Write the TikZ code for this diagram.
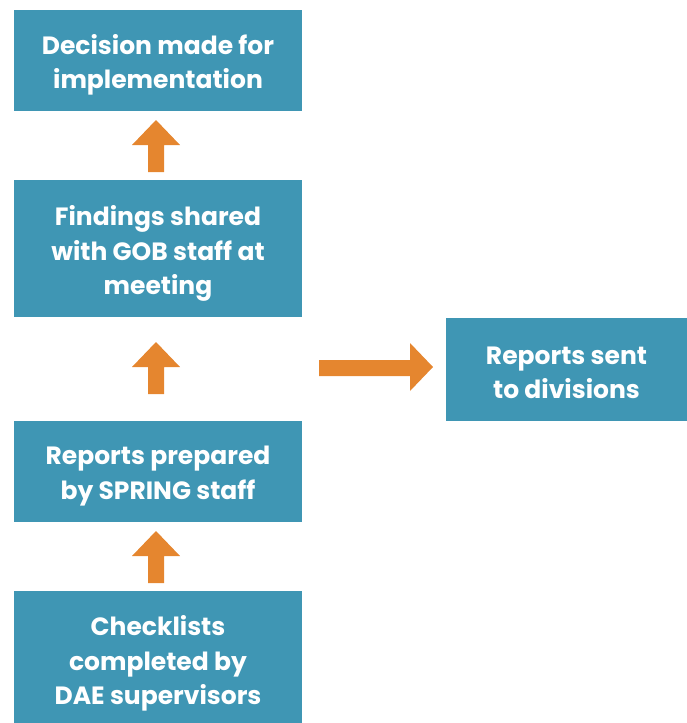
\documentclass[tikz,border=0pt]{standalone}
\usepackage{fontspec}
\setmainfont{Poppins}
\definecolor{boxblue}{HTML}{3F96B4}
\definecolor{arrorange}{HTML}{E5862F}
\tikzset{
  stepbox/.style={fill=boxblue, draw=none, text=white, align=center,
    font=\fontsize{25}{34.5}\selectfont\bfseries, inner sep=0pt},
  blockarrow/.style={fill=arrorange, draw=none}
}
\newcommand{\uparr}[2]{% #1 x centre, #2 tip y
  \fill[blockarrow] (#1,#2) -- ++(24,25) -- ++(-16,0) -- ++(0,27) -- ++(-16,0) -- ++(0,-27) -- ++(-16,0) -- cycle;}
\begin{document}
\begin{tikzpicture}[x=1pt,y=-1pt]
\useasboundingbox (0,0) rectangle (687,723);
\fill[boxblue] (14,10) rectangle (302,111);
\node[stepbox] (b1) at (158,65) {Decision made for\\implementation};
\fill[boxblue] (14,180) rectangle (302,317);
\node[stepbox] (b2) at (158,253.5) {Findings shared\\with GOB staff at\\meeting};
\fill[boxblue] (446,318) rectangle (687,421);
\node[stepbox] (b3) at (566.5,373) {Reports sent\\to divisions};
\fill[boxblue] (14,421) rectangle (302,522);
\node[stepbox] (b4) at (158,476) {Reports prepared\\by SPRING staff};
\fill[boxblue] (14,591) rectangle (302,723);
\node[stepbox] (b5) at (158,663.5) {Checklists\\completed by\\DAE supervisors};
\uparr{156}{120}
\uparr{156}{342}
\uparr{156}{531}
\fill[blockarrow] (319,360) -- (410,360) -- (410,343) -- (433,367) -- (410,391) -- (410,376) -- (319,376) -- cycle;
\end{tikzpicture}
\end{document}
